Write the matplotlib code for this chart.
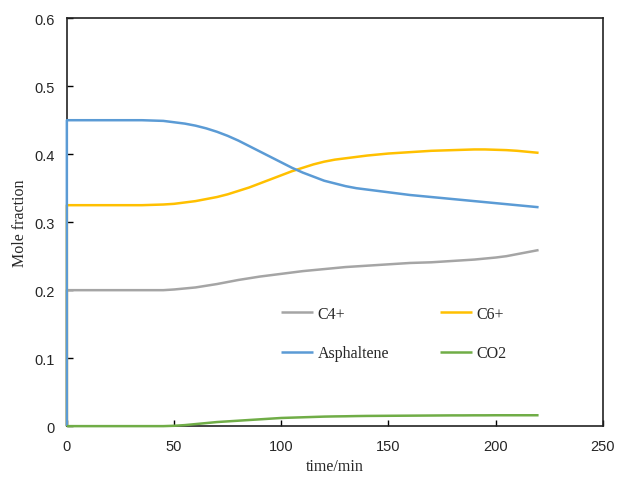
import matplotlib.pyplot as plt
import numpy as np

# time in minutes; the leading duplicate 0 gives the vertical jump at t=0
time = [0,
        0, 5, 10, 15, 20, 25, 30, 35, 40,
        45, 50, 55, 60, 65, 70, 75, 80, 85,
        90, 95, 100, 105, 110, 115, 120, 125, 130,
        135, 140, 145, 150, 155, 160, 165, 170, 175,
        180, 185, 190, 195, 200, 205, 210, 215, 220]
c4 = [0,
      0.200, 0.200, 0.200, 0.200, 0.200, 0.200, 0.200, 0.200, 0.200,
      0.200, 0.201, 0.2025, 0.204, 0.2065, 0.209, 0.212, 0.215, 0.2175,
      0.220, 0.222, 0.224, 0.226, 0.228, 0.2295, 0.231, 0.2325, 0.234,
      0.235, 0.236, 0.237, 0.238, 0.239, 0.240, 0.2405, 0.241, 0.242,
      0.243, 0.244, 0.245, 0.2465, 0.248, 0.250, 0.253, 0.256, 0.259]
c6 = [0,
      0.325, 0.325, 0.325, 0.325, 0.325, 0.325, 0.325, 0.325, 0.3255,
      0.326, 0.327, 0.329, 0.331, 0.334, 0.337, 0.341, 0.346, 0.351,
      0.357, 0.363, 0.369, 0.375, 0.380, 0.385, 0.389, 0.392, 0.394,
      0.396, 0.398, 0.3995, 0.401, 0.402, 0.403, 0.404, 0.405, 0.4055,
      0.406, 0.4065, 0.407, 0.407, 0.4065, 0.406, 0.405, 0.4035, 0.402]
asph = [0,
        0.450, 0.450, 0.450, 0.450, 0.450, 0.450, 0.450, 0.450, 0.4495,
        0.449, 0.447, 0.445, 0.442, 0.438, 0.433, 0.427, 0.420, 0.412,
        0.404, 0.396, 0.388, 0.380, 0.373, 0.367, 0.361, 0.357, 0.353,
        0.350, 0.348, 0.346, 0.344, 0.342, 0.340, 0.3385, 0.337, 0.3355,
        0.334, 0.3325, 0.331, 0.3295, 0.328, 0.3265, 0.325, 0.3235, 0.322]
co2 = [0,
       0, 0, 0, 0, 0, 0, 0, 0, 0,
       0, 0.0005, 0.0015, 0.003, 0.0045, 0.006, 0.007, 0.008, 0.009,
       0.010, 0.011, 0.012, 0.0125, 0.013, 0.0135, 0.014, 0.0143, 0.0145,
       0.0148, 0.015, 0.0151, 0.0152, 0.0153, 0.0154, 0.0155, 0.0156, 0.0157,
       0.0158, 0.0158, 0.0159, 0.0159, 0.016, 0.016, 0.016, 0.016, 0.016]

fig = plt.figure(figsize=(6.19, 4.81), dpi=100)
ax = fig.add_axes([0.108, 0.112, 0.866, 0.848])

kw = dict(lw=1.8, clip_on=False, zorder=3, solid_capstyle='butt')
l1, = ax.plot(time, c4, color='#A5A5A5', label='C4+', **kw)
l2, = ax.plot(time, c6, color='#FFC000', label='C6+', **kw)
l3, = ax.plot(time, asph, color='#5B9BD5', label='Asphaltene', **kw)
l4, = ax.plot(time, co2, color='#70AD47', label='CO2', **kw)

ax.set_xlim(0, 250)
ax.set_ylim(0, 0.6)
ax.set_xticks([0, 50, 100, 150, 200, 250])
ax.set_yticks([0, 0.1, 0.2, 0.3, 0.4, 0.5, 0.6])
ax.set_yticklabels(['0', '0.1', '0.2', '0.3', '0.4', '0.5', '0.6'])
ax.tick_params(direction='in', length=4, width=1, pad=9, labelsize=10.5)
for lab in ax.get_xticklabels() + ax.get_yticklabels():
    lab.set_fontfamily('Liberation Sans')
    lab.set_color('#262626')
for s in ax.spines.values():
    s.set_linewidth(1.2)
    s.set_color('#222222')

ax.set_xlabel('time/min', fontfamily='Liberation Serif', fontsize=11.5,
              labelpad=4, color='#262626')
ax.set_ylabel('Mole fraction', fontfamily='Liberation Serif', fontsize=11.5,
              labelpad=4, color='#262626')

# row-wise order: C4+, C6+ / Asphaltene, CO2
leg = ax.legend([l1, l3, l2, l4], ['C4+', 'Asphaltene', 'C6+', 'CO2'],
                ncol=2, frameon=False, loc='center',
                bbox_to_anchor=(0.61, 0.227),
                prop={'family': 'Liberation Serif', 'size': 11.5},
                handlelength=2.0, handletextpad=0.3, columnspacing=3.2,
                labelspacing=1.45)
for t in leg.get_texts():
    t.set_color('#262626')

fig.savefig('out.png', dpi=100)
